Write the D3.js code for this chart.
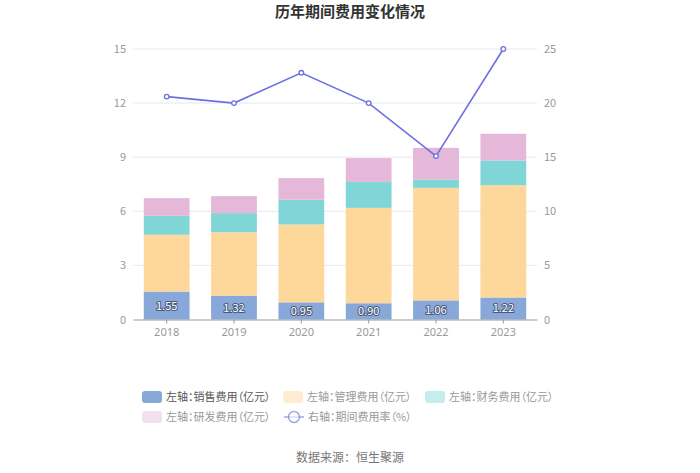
<!DOCTYPE html>
<html>
<head>
<meta charset="utf-8">
<style>
  body { margin: 0; background: #fff; }
  svg { display: block; font-family: "Noto Sans CJK SC", "Noto Sans", sans-serif; }
  .lg text { font-feature-settings: "palt"; }
</style>
</head>
<body>
<div id="chart"></div>
<script src="https://d3js.org/d3.v7.min.js"></script>
<script>
var width = 700, height = 473;

let years = ["2018", "2019", "2020", "2021", "2022", "2023"];
let sales   = [1.55, 1.32, 0.95, 0.90, 1.06, 1.22];
let admin   = [3.15, 3.52, 4.32, 5.29, 6.24, 6.23];
let finance = [1.05, 1.06, 1.37, 1.44, 0.46, 1.37];
let rnd     = [0.98, 0.94, 1.20, 1.32, 1.76, 1.48];
let rate    = [20.6, 20.0, 22.8, 20.0, 15.1, 25.0];
let leftTicks  = [0, 3, 6, 9, 12, 15];
let rightTicks = [0, 5, 10, 15, 20, 25];

let seriesNames = ["左轴：销售费用（亿元）", "左轴：管理费用（亿元）", "左轴：财务费用（亿元）", "左轴：研发费用（亿元）"];
let colors = ["#87a8d9", "#fed79b", "#80d6d6", "#e5b8da"];
let lineName = "右轴：期间费用率（%）";
let lineColor = "#6c6fe0";

var svg = d3.select("#chart").append("svg")
  .attr("width", width).attr("height", height);

var x = d3.scaleBand().domain(years).range([133, 537]).paddingInner(0.32).paddingOuter(0.16);
var yL = d3.scaleLinear().domain([0, 15]).range([319.5, 49]);
var yR = d3.scaleLinear().domain([0, 25]).range([319.5, 49]);

// title
svg.append("text").attr("x", 350).attr("y", 17).attr("text-anchor", "middle")
  .attr("font-size", 15).attr("font-weight", "bold").attr("fill", "#333")
  .text("历年期间费用变化情况");

// grid
svg.append("g").selectAll("line").data(leftTicks.slice(1)).enter().append("line")
  .attr("x1", 133).attr("x2", 537)
  .attr("y1", d => yL(d)).attr("y2", d => yL(d))
  .attr("stroke", "#e6e9f0").attr("stroke-width", 1);

// left axis labels
svg.append("g").selectAll("text").data(leftTicks).enter().append("text")
  .attr("x", 126).attr("y", d => yL(d) + 4).attr("text-anchor", "end")
  .attr("font-size", 11).attr("fill", "#999").text(d => d);

// right axis labels
svg.append("g").selectAll("text").data(rightTicks).enter().append("text")
  .attr("x", 544).attr("y", d => yR(d) + 4).attr("text-anchor", "start")
  .attr("font-size", 11).attr("fill", "#999").text(d => d);

// stacked bars
var table = years.map((y, i) => ({year: y, s0: sales[i], s1: admin[i], s2: finance[i], s3: rnd[i]}));
var stack = d3.stack().keys(["s0", "s1", "s2", "s3"])(table);

svg.append("g").selectAll("g").data(stack).enter().append("g")
  .attr("fill", (d, i) => colors[i])
  .selectAll("rect").data(d => d).enter().append("rect")
  .attr("x", d => x(d.data.year))
  .attr("y", d => yL(d[1]))
  .attr("width", x.bandwidth())
  .attr("height", d => yL(d[0]) - yL(d[1]));

// sales labels
svg.append("g").selectAll("text").data(table).enter().append("text")
  .attr("x", d => x(d.year) + x.bandwidth() / 2)
  .attr("y", d => yL(d.s0 / 2) + 4)
  .attr("text-anchor", "middle").attr("font-size", 11)
  .attr("fill", "#fff").attr("stroke", "#4a5a78").attr("stroke-width", 2)
  .attr("paint-order", "stroke").attr("stroke-linejoin", "round")
  .text(d => d.s0.toFixed(2));

// x axis
var xAxis = svg.append("g").attr("transform", "translate(0,319.5)")
  .call(d3.axisBottom(x).tickSize(4).tickSizeOuter(0));
xAxis.select(".domain").attr("stroke", "#999");
xAxis.selectAll(".tick line").attr("stroke", "#999");
xAxis.selectAll(".tick text").attr("fill", "#999").attr("font-size", 11)
  .attr("dy", "0.9em").style("font-family", "\"Noto Sans\", sans-serif");

// line
var line = d3.line().x((d, i) => x(years[i]) + x.bandwidth() / 2).y(d => yR(d));
svg.append("path").datum(rate).attr("d", line)
  .attr("fill", "none").attr("stroke", lineColor).attr("stroke-width", 1.6);
svg.append("g").selectAll("circle").data(rate).enter().append("circle")
  .attr("cx", (d, i) => x(years[i]) + x.bandwidth() / 2)
  .attr("cy", d => yR(d)).attr("r", 2.3)
  .attr("fill", "#fff").attr("stroke", lineColor).attr("stroke-width", 1.3);

// legend
var legendPos = [[142, 397], [283, 397], [425, 397], [142, 417]];
var lg = svg.append("g").attr("class", "lg");
seriesNames.forEach((name, i) => {
  var p = legendPos[i];
  var op = i === 0 ? 1 : 0.45;
  lg.append("rect").attr("x", p[0]).attr("y", p[1] - 6).attr("width", 20).attr("height", 12)
    .attr("rx", 3).attr("fill", colors[i]).attr("opacity", op);
  lg.append("text").attr("x", p[0] + 24).attr("y", p[1] + 4).attr("font-size", 11)
    .attr("fill", i === 0 ? "#555" : "#999").text(name);
});
lg.append("line").attr("x1", 284).attr("x2", 304).attr("y1", 417).attr("y2", 417)
  .attr("stroke", lineColor).attr("stroke-width", 1.5).attr("opacity", 0.6);
lg.append("circle").attr("cx", 294).attr("cy", 417).attr("r", 5.5)
  .attr("fill", "#fff").attr("stroke", lineColor).attr("stroke-width", 1.5).attr("opacity", 0.6);
lg.append("text").attr("x", 308).attr("y", 421).attr("font-size", 11)
  .attr("fill", "#999").text(lineName);

// source
svg.append("text").attr("x", 350).attr("y", 462).attr("text-anchor", "middle")
  .attr("font-size", 12).attr("fill", "#777").text("数据来源：恒生聚源");
</script>
</body>
</html>
